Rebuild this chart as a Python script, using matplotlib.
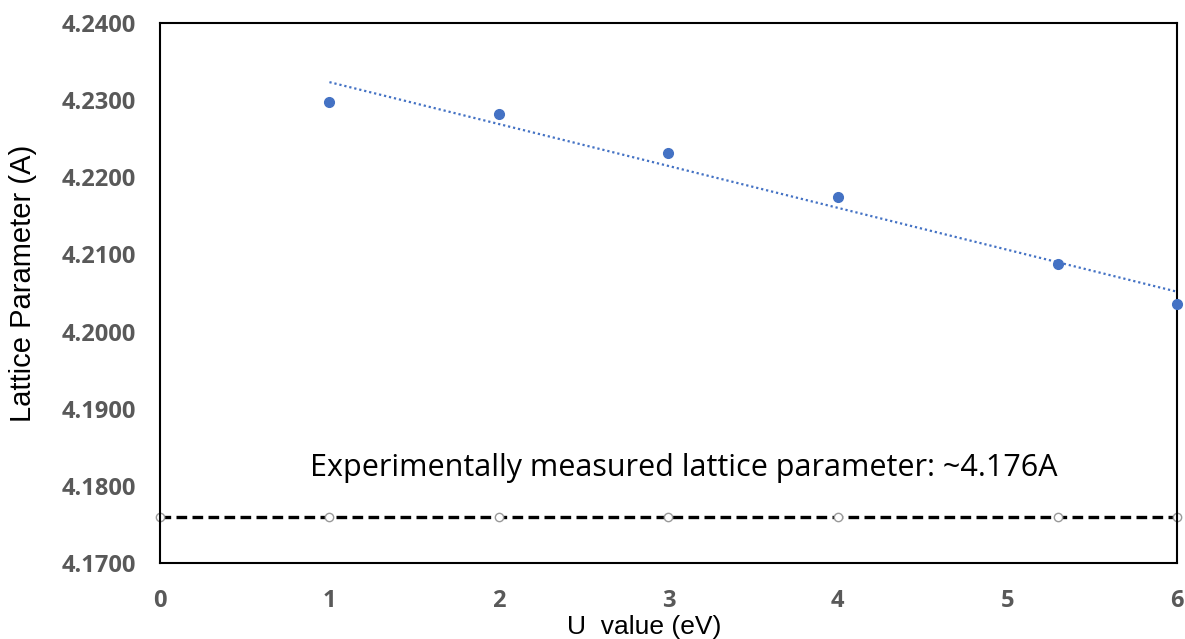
import numpy as np
import matplotlib.pyplot as plt

# U values (eV) and computed lattice parameters (A)
u_vals = [1, 2, 3, 4, 5.3, 6]
lattice = [4.2298, 4.2282, 4.2231, 4.2174, 4.2088, 4.2036]

# experimental reference line
exp_u = [0, 1, 2, 3, 4, 5.3, 6]
exp_val = 4.176
exp_lattice = [exp_val] * len(exp_u)

yticks = [4.17, 4.18, 4.19, 4.20, 4.21, 4.22, 4.23, 4.24]
xticks = [0, 1, 2, 3, 4, 5, 6]

blue = "#4472C4"
grey = "#595959"

fig = plt.figure(figsize=(11.85, 6.39), dpi=100)
ax = fig.add_axes([0.135, 0.119, 0.858, 0.845])

# linear trendline through the computed values
coef = np.polyfit(u_vals, lattice, 1)
trend_x = np.array([u_vals[0], u_vals[-1]])
ax.plot(trend_x, np.polyval(coef, trend_x), ls=(0, (1, 1.3)), lw=1.6, color=blue, zorder=2)
ax.plot(u_vals, lattice, "o", ms=7, color=blue, zorder=3, clip_on=False)

ax.plot(exp_u, exp_lattice, ls=(0, (3.2, 1.6)), lw=2.4, color="black", zorder=2,
        marker="o", ms=6, mfc="white", mec="#999999", mew=1.0, clip_on=False)

ax.text(0.885, 4.1823, "Experimentally measured lattice parameter: ~4.176A",
        fontsize=22, family="Open Sans", va="center", ha="left")

ax.set_xlim(0, 6)
ax.set_ylim(4.17, 4.24)
ax.set_xticks(xticks)
ax.set_yticks(yticks)
ax.set_yticklabels([f"{v:.4f}" for v in yticks])
for lab in ax.get_xticklabels() + ax.get_yticklabels():
    lab.set_fontweight("bold")
    lab.set_fontsize(17)
    lab.set_color(grey)
    lab.set_family("Open Sans")
ax.tick_params(length=0)
ax.tick_params(axis="x", pad=19)
ax.tick_params(axis="y", pad=17)

for sp in ax.spines.values():
    sp.set_linewidth(1.5)
    sp.set_color("black")

ax.set_ylabel("Lattice Parameter (A)", fontsize=21, family="Liberation Sans")
ax.yaxis.set_label_coords(-0.121, 0.518)
ax.set_xlabel("U  value (eV)", fontsize=19, family="Liberation Sans")
ax.xaxis.set_label_coords(0.476, -0.097)

fig.savefig("out.png", dpi=100)
